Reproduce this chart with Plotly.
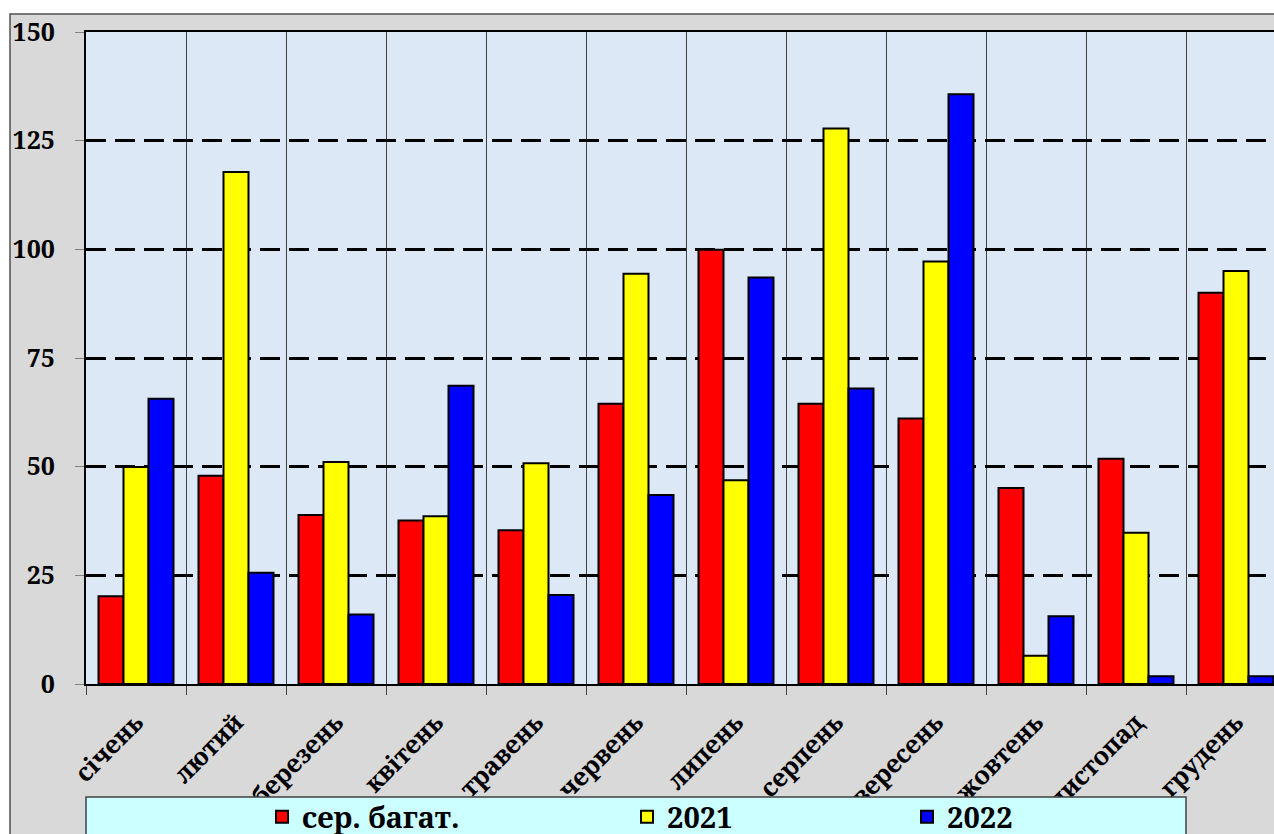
import plotly.graph_objects as go

months = ["січень", "лютий", "березень", "квітень", "травень", "червень",
          "липень", "серпень", "вересень", "жовтень", "листопад", "грудень"]
avg_vals = [20.2, 47.9, 38.9, 37.6, 35.4, 64.5, 99.9, 64.5, 61.1, 45.1, 51.8, 90.0]
vals_2021 = [49.9, 117.8, 51.1, 38.6, 50.8, 94.4, 46.9, 127.8, 97.2, 6.5, 34.8, 95.0]
vals_2022 = [65.6, 25.6, 16.0, 68.6, 20.5, 43.5, 93.5, 68.0, 135.7, 15.6, 1.8, 1.8]
series_names = ["сер. багат.", "2021", "2022"]
series_colors = ["#FF0000", "#FFFF00", "#0000FF"]
y_ticks = [0, 25, 50, 75, 100, 125, 150]

W, H = 1274, 834
L, T, B = 86, 32, 150
PW = W - L
PH = H - T - B

def px_x(p):
    return (p - L) / PW

def px_y(p):
    return (H - B - p) / PH

FONT = "Noto Serif"
xpos = list(range(len(months)))

fig = go.Figure()
legends = ["legend", "legend2", "legend3"]
for name, vals, col, lg in zip(series_names, [avg_vals, vals_2021, vals_2022], series_colors, legends):
    fig.add_trace(go.Bar(
        x=xpos, y=vals, name="<b>" + name + "</b>", legend=lg,
        marker=dict(color=col, line=dict(color="black", width=2)),
    ))

def lc(x):
    return dict(
        orientation="h", bgcolor="rgba(0,0,0,0)", borderwidth=0,
        font=dict(family=FONT, size=29, color="black"),
        yanchor="middle", y=px_y(817), xanchor="left", x=x,
    )
fig.update_layout(
    font=dict(family=FONT, size=29, color="black"),
    legend=lc(px_x(262)),
    legend2=lc(px_x(627)),
    legend3=lc(px_x(907)),
)

fig.update_layout(
    width=W, height=H,
    margin=dict(l=L, r=0, t=T, b=B, autoexpand=False),
    paper_bgcolor="#D9D9D9",
    plot_bgcolor="#DCE8F6",
    barmode="group", bargap=0.25, bargroupgap=0,
    showlegend=True,
    xaxis=dict(
        type="linear", range=[-0.5, -0.5 + PW / 100.0],
        tickmode="array", tickvals=xpos, ticktext=["<b>" + m + "</b>" for m in months],
        tickangle=-45, ticks="", showgrid=False, zeroline=False,
        tickfont=dict(family=FONT, size=25, color="black"),
        ticklabelstandoff=12,
        showline=True, linecolor="black", linewidth=2, mirror=True,
        minor=dict(tickmode="array", tickvals=[i - 0.5 for i in range(len(months) + 1)],
                   showgrid=True, gridcolor="#404040", gridwidth=1,
                   ticks="outside", ticklen=9, tickcolor="#404040", tickwidth=1),
    ),
    yaxis=dict(
        range=[0, 150], tickmode="array", tickvals=y_ticks,
        ticktext=["<b>%d</b>" % v for v in y_ticks],
        showgrid=True, gridcolor="black", gridwidth=2.5, griddash="20px,9px",
        zeroline=False, ticks="outside", ticklen=9, tickcolor="#808080", tickwidth=1,
        tickfont=dict(family=FONT, size=25, color="black"),
        ticklabelstandoff=15,
        showline=True, linecolor="black", linewidth=2,
    ),
)

fig.add_shape(type="rect", xref="paper", yref="paper", layer="below",
              x0=px_x(-5), x1=px_x(W + 10), y0=px_y(14), y1=px_y(-5),
              fillcolor="white", line=dict(width=0))
fig.add_shape(type="rect", xref="paper", yref="paper", layer="below",
              x0=px_x(-5), x1=px_x(10), y0=px_y(H + 10), y1=px_y(-5),
              fillcolor="white", line=dict(width=0))
fig.add_shape(type="rect", xref="paper", yref="paper", layer="below",
              x0=px_x(10), x1=px_x(W + 20), y0=px_y(H + 20), y1=px_y(14),
              fillcolor="rgba(0,0,0,0)", line=dict(color="#505050", width=1.5))
fig.add_shape(type="rect", xref="paper", yref="paper", layer="above",
              x0=px_x(86), x1=px_x(1186), y0=px_y(H + 20), y1=px_y(797),
              fillcolor="#CCFFFF", line=dict(color="#404040", width=1.5))

fig.write_html("out.html")
